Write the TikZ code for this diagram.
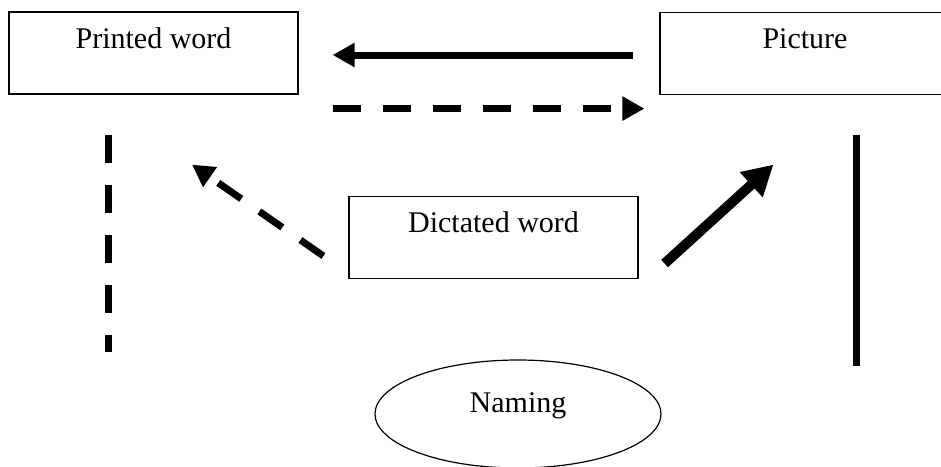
\documentclass[tikz,border=0pt]{standalone}
\usepackage{fontspec}
\setmainfont{Liberation Serif}
\usetikzlibrary{positioning, calc, arrows.meta, shapes.geometric}

\begin{document}
\begin{tikzpicture}[x=0.5pt, y=-0.5pt, font=\fontsize{15}{18}\selectfont,
                    box/.style={draw, line width=0.6pt, rectangle, inner sep=0pt,
                                minimum width=144.5pt, text height=18pt, text depth=23pt},
                    bubble/.style={draw, line width=0.6pt, ellipse, inner sep=0pt,
                                   minimum width=143pt, minimum height=54pt,
                                   text height=10pt, text depth=12pt},
                    link/.style={line width=3.5pt, -{Triangle[length=11pt, width=11.5pt]}},
                    boldlink/.style={line width=5pt, -{Triangle[length=15pt, width=16pt]}},
                    linkdash/.style={dash pattern=on 14pt off 11pt},
                    linkline/.style={line width=3.5pt}]

    \useasboundingbox (0,0) rectangle (941,466);

    % Nodes
    \node[box] (printed) at (153.5, 53) {Printed word};
    \node[box, minimum width=145pt] (picture) at (805, 53.5) {Picture};
    \node[box] (dictated) at (493.5, 237.5) {Dictated word};
    \node[bubble] (naming) at (518, 414) {Naming};

    % Arrows between the top boxes
    \draw[link] ($(picture.west)+(-26,1.5)$) -- ($(printed.east)+(34,2)$);
    \draw[link, linkdash] ($(printed.south east)+(34,14)$) -- ($(picture.south west)+(-15,13.5)$);

    % Arrows from the dictated word
    \draw[link, linkdash] ($(dictated.west)+(-25,18.5)$) -- ($(printed.south)+(38.5,70)$);
    \draw[boldlink] ($(dictated.east)+(26,26)$) -- ($(picture.south west)+(114,69.5)$);

    % Side lines down to naming
    \draw[linkline, linkdash] ($(printed.south)+(-45.5,40)$) -- ($(printed.south)+(-45.5,257)$);
    \draw[linkline] ($(picture.south)+(51,39.5)$) -- ($(picture.south)+(51,270.5)$);

\end{tikzpicture}
\end{document}
